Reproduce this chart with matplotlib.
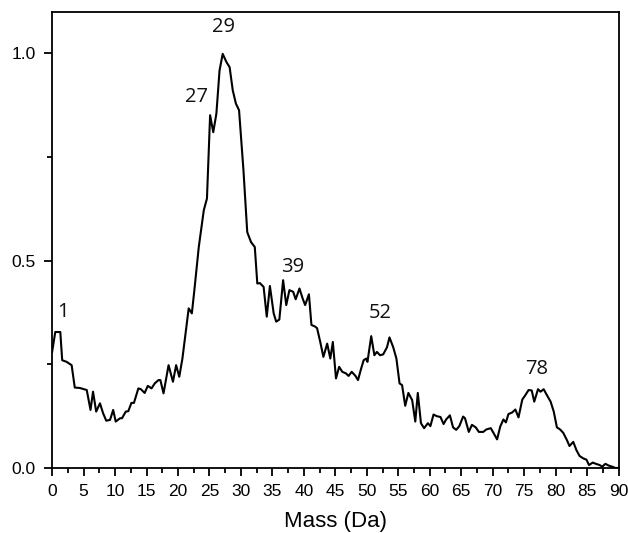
import matplotlib.pyplot as plt
from matplotlib.ticker import MultipleLocator

# Mass spectrum (normalised intensity vs mass)
mass = [0.0, 0.5, 1.3, 1.6, 2.3, 3.1, 3.6, 4.4, 5.5, 6.1, 6.5, 7.0, 7.6, 8.1,
        8.6, 9.2, 9.7, 10.1, 10.8, 11.1, 11.7, 12.1, 12.6, 13.0, 13.7, 14.1,
        14.7, 15.2, 15.8, 16.3, 16.9, 17.2, 17.7, 18.5, 19.2, 19.7, 20.2,
        20.7, 21.7, 22.2, 22.6, 23.3, 24.1, 24.6, 25.1, 25.6, 26.1, 26.6,
        27.1, 27.7, 28.2, 28.7, 29.2, 29.7, 30.4, 31.0, 31.6, 32.2, 32.6,
        33.0, 33.6, 34.1, 34.6, 35.2, 35.6, 36.1, 36.7, 37.2, 37.7, 38.3,
        38.7, 39.3, 39.8, 40.2, 40.8, 41.2, 41.8, 42.1, 42.6, 43.1, 43.7,
        44.2, 44.6, 45.1, 45.6, 46.1, 46.7, 47.1, 47.6, 48.2, 48.6, 49.1,
        49.5, 49.9, 50.1, 50.7, 51.2, 51.6, 52.1, 52.6, 53.2, 53.6, 54.2,
        54.7, 55.2, 55.6, 56.1, 56.6, 57.2, 57.7, 58.1, 58.6, 59.1, 59.7,
        60.1, 60.6, 61.1, 61.7, 62.2, 62.6, 63.2, 63.7, 64.2, 64.7, 65.3,
        65.6, 66.2, 66.7, 67.3, 67.8, 68.5, 69.0, 69.7, 70.3, 70.7, 71.2,
        71.7, 72.1, 72.5, 73.1, 73.6, 74.1, 74.7, 75.2, 75.7, 76.2, 76.6,
        77.2, 77.6, 78.1, 78.6, 79.2, 79.7, 80.2, 80.7, 81.2, 81.8, 82.2,
        82.8, 83.3, 83.8, 84.4, 84.9, 85.3, 85.9, 86.4, 87.0, 87.4, 87.9,
        88.4, 89.0, 89.5, 90.0]
intensity = [0.28, 0.328, 0.328, 0.26, 0.256, 0.248, 0.194, 0.193, 0.188,
             0.14, 0.184, 0.136, 0.156, 0.132, 0.114, 0.116, 0.14, 0.112,
             0.12, 0.12, 0.136, 0.137, 0.157, 0.157, 0.192, 0.19, 0.181,
             0.198, 0.192, 0.204, 0.212, 0.212, 0.18, 0.248, 0.208, 0.248,
             0.22, 0.264, 0.385, 0.373, 0.429, 0.533, 0.622, 0.65, 0.851,
             0.81, 0.855, 0.959, 0.999, 0.979, 0.967, 0.911, 0.879, 0.863,
             0.718, 0.569, 0.545, 0.533, 0.445, 0.446, 0.437, 0.365, 0.439,
             0.373, 0.353, 0.358, 0.453, 0.393, 0.429, 0.425, 0.407, 0.433,
             0.409, 0.393, 0.419, 0.345, 0.341, 0.337, 0.304, 0.268, 0.3,
             0.264, 0.304, 0.216, 0.244, 0.232, 0.228, 0.222, 0.232, 0.222,
             0.212, 0.24, 0.26, 0.264, 0.256, 0.318, 0.272, 0.28, 0.272,
             0.274, 0.291, 0.315, 0.291, 0.264, 0.204, 0.2, 0.15, 0.181,
             0.164, 0.112, 0.181, 0.108, 0.096, 0.108, 0.101, 0.129, 0.125,
             0.123, 0.106, 0.117, 0.127, 0.098, 0.092, 0.101, 0.124, 0.12,
             0.087, 0.104, 0.098, 0.087, 0.087, 0.093, 0.096, 0.08, 0.069,
             0.1, 0.117, 0.11, 0.13, 0.134, 0.141, 0.122, 0.165, 0.176,
             0.188, 0.187, 0.16, 0.19, 0.184, 0.19, 0.176, 0.16, 0.136,
             0.098, 0.093, 0.085, 0.067, 0.053, 0.063, 0.043, 0.029, 0.023,
             0.02, 0.007, 0.013, 0.01, 0.007, 0.003, 0.01, 0.006, 0.003,
             0.0, 0.0]

# peak labels: text, x, y
peak_labels = ["1", "27", "29", "39", "52", "78"]
label_x = [1.75, 23.0, 27.3, 38.2, 52.1, 77.0]
label_y = [0.376, 0.894, 1.063, 0.484, 0.373, 0.239]

plt.rcParams['font.family'] = ['Liberation Sans', 'DejaVu Sans']

fig = plt.figure(figsize=(6.28, 5.33), dpi=100)
ax = fig.add_axes([0.083, 0.122, 0.902, 0.8555])

ax.plot(mass, intensity, color='black', lw=1.5)

for t, x, y in zip(peak_labels, label_x, label_y):
    ax.text(x, y, t, ha='center', va='center', fontsize=14.5,
            family=['Open Sans', 'DejaVu Sans'], color='#111111')

ax.set_xlim(0, 90)
ax.set_ylim(0, 1.1)
ax.xaxis.set_major_locator(MultipleLocator(5))
ax.xaxis.set_minor_locator(MultipleLocator(2.5))
ax.yaxis.set_major_locator(MultipleLocator(0.5))
ax.yaxis.set_minor_locator(MultipleLocator(0.25))
ax.yaxis.set_major_formatter(lambda v, p: f"{v:.1f}")

ax.tick_params(which='major', direction='out', length=6, width=1.3,
               labelsize=12.5)
ax.tick_params(which='minor', direction='out', length=3.5, width=1.3)
ax.tick_params(axis='x', which='major', pad=5.5)
ax.tick_params(axis='y', which='major', pad=6)
for s in ax.spines.values():
    s.set_linewidth(1.3)

ax.set_xlabel('Mass (Da)', fontsize=16, labelpad=8.5)

fig.savefig('out.png', dpi=100)
